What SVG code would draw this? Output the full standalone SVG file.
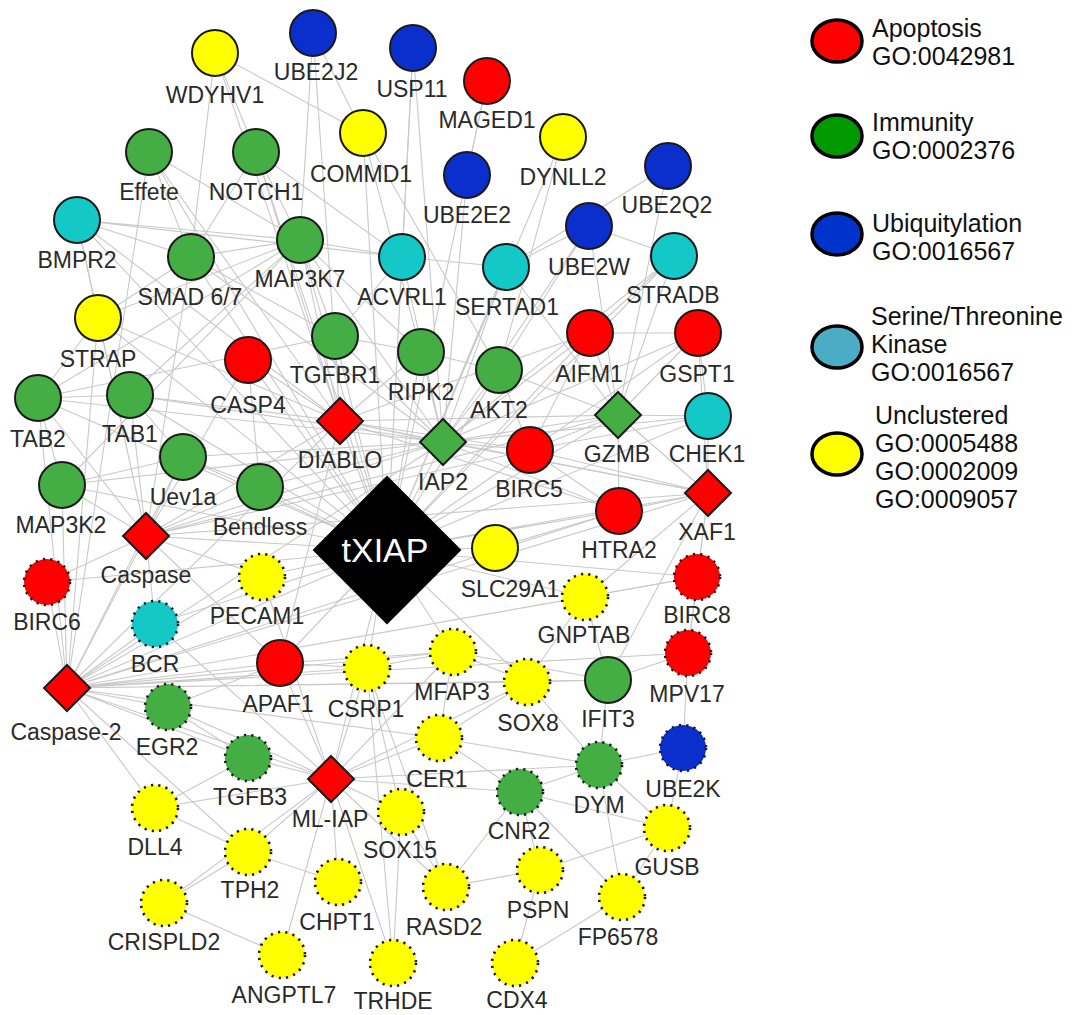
<svg xmlns="http://www.w3.org/2000/svg" width="1075" height="1015" viewBox="0 0 1075 1015">
<style>
.e{stroke:#c9c9c9;stroke-width:1.1;fill:none}
.s{stroke:#1a1a1a;stroke-width:2}
.d{stroke:#1a1a1a;stroke-width:2.6;stroke-dasharray:2.2 5.2}
.r{fill:#ff0000}.g{fill:#44ad44}.b{fill:#0a2fcc}.c{fill:#14c8c8}.y{fill:#ffff00}
text{font-family:"Liberation Sans",Arial,Helvetica,sans-serif}
.l{font-size:23px;fill:#2a2a2a;text-anchor:middle}
.lg{font-size:25px;fill:#111}
</style>
<rect width="1075" height="1015" fill="#ffffff"/>
<g id="connectors">
<path class="e" d="M387 550L335 336M387 550L421 352M387 550L499 370M387 550L248 360M387 550L260 487M387 550L183 457M387 550L130 395M387 550L38 398M387 550L62 485M387 550L300 240M387 550L191 257M387 550L77 220M387 550L402 257M387 550L506 267M387 550L590 333M387 550L698 333M387 550L530 450M387 550L619 511M387 550L495 548M387 550L708 416M387 550L708 493M387 550L618 415M387 550L674 256M387 550L589 226M387 550L467 175M387 550L363 133M387 550L413 48M387 550L487 81M387 550L563 137M387 550L146 536M387 550L67 688M387 550L340 421M387 550L443 442M387 550L262 576M387 550L280 663M387 550L367 668M387 550L453 652M387 550L585 597M387 550L47 582M387 550L155 624M387 550L331 779M387 550L697 577M387 550L527 682M387 550L98 318M387 550L149 152M387 550L256 152"/>
<path class="e" d="M340 421L313 33M340 421L215 53M340 421L149 152M340 421L256 152M340 421L248 360M340 421L335 336M340 421L421 352M340 421L443 442M340 421L530 450M340 421L590 333M340 421L619 511M340 421L146 536M340 421L67 688M340 421L130 395M340 421L98 318M340 421L77 220M340 421L618 415M340 421L708 493M340 421L300 240M340 421L280 663"/>
<path class="e" d="M443 442L413 48M443 442L467 175M443 442L421 352M443 442L499 370M443 442L335 336M443 442L300 240M443 442L191 257M443 442L130 395M443 442L38 398M443 442L183 457M443 442L260 487M443 442L618 415M443 442L708 416M443 442L708 493M443 442L590 333M443 442L698 333M443 442L674 256M443 442L589 226M443 442L506 267M443 442L402 257M443 442L146 536M443 442L67 688M443 442L62 485M443 442L530 450M443 442L619 511"/>
<path class="e" d="M146 536L38 398M146 536L130 395M146 536L62 485M146 536L47 582M146 536L155 624M146 536L183 457M146 536L260 487M146 536L248 360M146 536L191 257M146 536L98 318M146 536L77 220M146 536L67 688M146 536L618 415M146 536L280 663M146 536L262 576M146 536L708 493M146 536L530 450"/>
<path class="e" d="M67 688L62 485M67 688L38 398M67 688L98 318M67 688L47 582M67 688L155 624M67 688L168 707M67 688L155 808M67 688L248 758M67 688L280 663M67 688L367 668M67 688L453 652M67 688L527 682M67 688L608 680M67 688L688 653M67 688L585 597M67 688L697 577M67 688L262 576M67 688L619 511M67 688L708 493M67 688L149 152M67 688L183 457M67 688L439 738M67 688L248 852M67 688L331 779"/>
<path class="e" d="M331 779L280 663M331 779L367 668M331 779L453 652M331 779L439 738M331 779L401 812M331 779L338 882M331 779L393 963M331 779L282 955M331 779L248 852M331 779L248 758M331 779L168 707M331 779L155 808M331 779L446 887M331 779L520 792M331 779L599 765M331 779L527 682M331 779L262 576M331 779L155 624M331 779L164 903"/>
<path class="e" d="M618 415L590 333M618 415L698 333M618 415L708 416M618 415L530 450M618 415L619 511M618 415L708 493M618 415L674 256M618 415L589 226M618 415L499 370M618 415L506 267M618 415L668 166M708 493L619 511M708 493L530 450M708 493L708 416M708 493L688 653M708 493L697 577M708 493L585 597M708 493L608 680M708 493L698 333"/>
<path class="e" d="M608 680L599 765M608 680L527 682M608 680L585 597M688 653L683 748M683 748L667 828M683 748L599 765M599 765L520 792M599 765L622 897M599 765L667 828M599 765L527 682M520 792L667 828M520 792L540 870M520 792L622 897M520 792L446 887M540 870L667 828M515 963L622 897M401 812L446 887M401 812L393 963M439 738L599 765M439 738L527 682M439 738L520 792M453 652L527 682M453 652L439 738M367 668L401 812M367 668L393 963M367 668L446 887M248 852L155 808M248 852L338 882M155 808L248 758M164 903L282 955M164 903L248 852M168 707L248 758M168 707L280 663M280 663L367 668M280 663L453 652M527 682L585 597M585 597L697 577M697 577L688 653M453 652L608 680M367 668L453 652M446 887L540 870M540 870L515 963M622 897L667 828M688 653L608 680"/>
<path class="e" d="M215 53L256 152M215 53L191 257M215 53L363 133M313 33L363 133M313 33L300 240M413 48L402 257M487 81L467 175M149 152L191 257M149 152L300 240M256 152L300 240M256 152L191 257M256 152L402 257M77 220L191 257M77 220L402 257M77 220L300 240M77 220L98 318M191 257L300 240M191 257L335 336M191 257L98 318M300 240L402 257M300 240L130 395M300 240L38 398M300 240L335 336M300 240L421 352M402 257L506 267M402 257L335 336M506 267L589 226M589 226L674 256M674 256L590 333M668 166L506 267M563 137L499 370M363 133L421 352M363 133L499 370M130 395L38 398M130 395L183 457M38 398L62 485M38 398L98 318M183 457L260 487M183 457L62 485M260 487L248 360M335 336L421 352M421 352L499 370M499 370L530 450M590 333L530 450M590 333L698 333M698 333L708 416M708 416L530 450M619 511L530 450M619 511L495 548M38 398L335 336M98 318L300 240M62 485L300 240"/>
</g>
<g id="legend">
<ellipse cx="837" cy="41" rx="25" ry="21" fill="#ff0000" stroke="#000" stroke-width="3.5"/>
<text class="lg" x="872" y="37">Apoptosis</text><text class="lg" x="872" y="65">GO:0042981</text>
<ellipse cx="837" cy="136" rx="25" ry="21" fill="#009900" stroke="#000" stroke-width="3.5"/>
<text class="lg" x="872" y="131">Immunity</text><text class="lg" x="872" y="159">GO:0002376</text>
<ellipse cx="837" cy="234" rx="25" ry="21" fill="#0033cc" stroke="#000" stroke-width="3.5"/>
<text class="lg" x="872" y="232">Ubiquitylation</text><text class="lg" x="872" y="260">GO:0016567</text>
<ellipse cx="837" cy="347" rx="25" ry="21" fill="#4bacc6" stroke="#000" stroke-width="3.5"/>
<text class="lg" x="871" y="325">Serine/Threonine</text><text class="lg" x="871" y="353">Kinase</text><text class="lg" x="871" y="381">GO:0016567</text>
<ellipse cx="837" cy="454" rx="25" ry="21" fill="#ffff00" stroke="#000" stroke-width="3.5"/>
<text class="lg" x="875" y="424">Unclustered</text><text class="lg" x="875" y="452">GO:0005488</text><text class="lg" x="875" y="480">GO:0002009</text><text class="lg" x="875" y="508">GO:0009057</text>
</g>
<g id="n-WDYHV1"><circle class="s y" cx="215" cy="53" r="23"/><text class="l" x="215" y="103">WDYHV1</text></g>
<g id="n-UBE2J2"><circle class="s b" cx="313" cy="33" r="23"/><text class="l" x="316" y="80">UBE2J2</text></g>
<g id="n-USP11"><circle class="s b" cx="413" cy="48" r="23"/><text class="l" x="412" y="97">USP11</text></g>
<g id="n-MAGED1"><circle class="s r" cx="487" cy="81" r="23"/><text class="l" x="487" y="128">MAGED1</text></g>
<g id="n-COMMD1"><circle class="s y" cx="363" cy="133" r="23"/><text class="l" x="361" y="182">COMMD1</text></g>
<g id="n-DYNLL2"><circle class="s y" cx="563" cy="137" r="23"/><text class="l" x="563" y="185">DYNLL2</text></g>
<g id="n-Effete"><circle class="s g" cx="149" cy="152" r="23"/><text class="l" x="149" y="200">Effete</text></g>
<g id="n-NOTCH1"><circle class="s g" cx="256" cy="152" r="23"/><text class="l" x="256" y="200">NOTCH1</text></g>
<g id="n-UBE2E2"><circle class="s b" cx="467" cy="175" r="23"/><text class="l" x="467" y="223">UBE2E2</text></g>
<g id="n-UBE2Q2"><circle class="s b" cx="668" cy="166" r="23"/><text class="l" x="667" y="213">UBE2Q2</text></g>
<g id="n-BMPR2"><circle class="s c" cx="77" cy="220" r="23"/><text class="l" x="77" y="268">BMPR2</text></g>
<g id="n-UBE2W"><circle class="s b" cx="589" cy="226" r="23"/><text class="l" x="589" y="275">UBE2W</text></g>
<g id="n-MAP3K7"><circle class="s g" cx="300" cy="240" r="23"/><text class="l" x="300" y="287">MAP3K7</text></g>
<g id="n-SMAD67"><circle class="s g" cx="191" cy="257" r="23"/><text class="l" x="190" y="305">SMAD 6/7</text></g>
<g id="n-ACVRL1"><circle class="s c" cx="402" cy="257" r="23"/><text class="l" x="402" y="305">ACVRL1</text></g>
<g id="n-SERTAD1"><circle class="s c" cx="506" cy="267" r="23"/><text class="l" x="507" y="315">SERTAD1</text></g>
<g id="n-STRADB"><circle class="s c" cx="674" cy="256" r="23"/><text class="l" x="673" y="303">STRADB</text></g>
<g id="n-STRAP"><circle class="s y" cx="98" cy="318" r="23"/><text class="l" x="98" y="367">STRAP</text></g>
<g id="n-TGFBR1"><circle class="s g" cx="335" cy="336" r="23"/><text class="l" x="335" y="383">TGFBR1</text></g>
<g id="n-RIPK2"><circle class="s g" cx="421" cy="352" r="23"/><text class="l" x="421" y="400">RIPK2</text></g>
<g id="n-AIFM1"><circle class="s r" cx="590" cy="333" r="23"/><text class="l" x="589" y="382">AIFM1</text></g>
<g id="n-GSPT1"><circle class="s r" cx="698" cy="333" r="23"/><text class="l" x="697" y="382">GSPT1</text></g>
<g id="n-CASP4"><circle class="s r" cx="248" cy="360" r="23"/><text class="l" x="248" y="413">CASP4</text></g>
<g id="n-AKT2"><circle class="s g" cx="499" cy="370" r="23"/><text class="l" x="499" y="418">AKT2</text></g>
<g id="n-TAB2"><circle class="s g" cx="38" cy="398" r="23"/><text class="l" x="38" y="447">TAB2</text></g>
<g id="n-TAB1"><circle class="s g" cx="130" cy="395" r="23"/><text class="l" x="130" y="442">TAB1</text></g>
<g id="n-DIABLO"><polygon class="s r" points="340,398 363,421 340,444 317,421"/><text class="l" x="340" y="468">DIABLO</text></g>
<g id="n-IAP2"><polygon class="s g" points="443,419 466,442 443,465 420,442"/><text class="l" x="443" y="490">IAP2</text></g>
<g id="n-GZMB"><polygon class="s g" points="618,392 641,415 618,438 595,415"/><text class="l" x="617" y="462">GZMB</text></g>
<g id="n-CHEK1"><circle class="s c" cx="708" cy="416" r="23"/><text class="l" x="707" y="462">CHEK1</text></g>
<g id="n-BIRC5"><circle class="s r" cx="530" cy="450" r="23"/><text class="l" x="529" y="497">BIRC5</text></g>
<g id="n-Uev1a"><circle class="s g" cx="183" cy="457" r="23"/><text class="l" x="183" y="505">Uev1a</text></g>
<g id="n-MAP3K2"><circle class="s g" cx="62" cy="485" r="23"/><text class="l" x="61" y="533">MAP3K2</text></g>
<g id="n-Bendless"><circle class="s g" cx="260" cy="487" r="23"/><text class="l" x="260" y="535">Bendless</text></g>
<g id="n-XAF1"><polygon class="s r" points="708,470 731,493 708,516 685,493"/><text class="l" x="707" y="540">XAF1</text></g>
<g id="n-HTRA2"><circle class="s r" cx="619" cy="511" r="23"/><text class="l" x="619" y="558">HTRA2</text></g>
<g id="n-Caspase"><polygon class="s r" points="146,513 169,536 146,559 123,536"/><text class="l" x="146" y="583">Caspase</text></g>
<g id="n-tXIAP"><polygon fill="#000" stroke="#000" stroke-width="2" points="387,477 460,550 387,623 314,550"/><text x="385" y="562" font-size="34" fill="#fff" text-anchor="middle">tXIAP</text></g>
<g id="n-SLC29A1"><circle class="s y" cx="495" cy="548" r="23"/><text class="l" x="510" y="597">SLC29A1</text></g>
<g id="n-PECAM1"><circle class="d y" cx="262" cy="577" r="23"/><text class="l" x="257" y="624">PECAM1</text></g>
<g id="n-BIRC6"><circle class="d r" cx="47" cy="582" r="23"/><text class="l" x="47" y="630">BIRC6</text></g>
<g id="n-BIRC8"><circle class="d r" cx="697" cy="577" r="23"/><text class="l" x="697" y="623">BIRC8</text></g>
<g id="n-GNPTAB"><circle class="d y" cx="585" cy="597" r="23"/><text class="l" x="584" y="643">GNPTAB</text></g>
<g id="n-BCR"><circle class="d c" cx="155" cy="624" r="23"/><text class="l" x="155" y="672">BCR</text></g>
<g id="n-MFAP3"><circle class="d y" cx="453" cy="652" r="23"/><text class="l" x="452" y="700">MFAP3</text></g>
<g id="n-APAF1"><circle class="s r" cx="280" cy="663" r="23"/><text class="l" x="278" y="712">APAF1</text></g>
<g id="n-CSRP1"><circle class="d y" cx="367" cy="668" r="23"/><text class="l" x="366" y="717">CSRP1</text></g>
<g id="n-SOX8"><circle class="d y" cx="527" cy="682" r="23"/><text class="l" x="528" y="731">SOX8</text></g>
<g id="n-IFIT3"><circle class="s g" cx="608" cy="680" r="23"/><text class="l" x="608" y="727">IFIT3</text></g>
<g id="n-MPV17"><circle class="d r" cx="688" cy="653" r="23"/><text class="l" x="687" y="702">MPV17</text></g>
<g id="n-Caspase-2"><polygon class="s r" points="67,665 90,688 67,711 44,688"/><text class="l" x="66" y="740">Caspase-2</text></g>
<g id="n-EGR2"><circle class="d g" cx="168" cy="707" r="23"/><text class="l" x="167" y="755">EGR2</text></g>
<g id="n-CER1"><circle class="d y" cx="439" cy="738" r="23"/><text class="l" x="437" y="787">CER1</text></g>
<g id="n-UBE2K"><circle class="d b" cx="683" cy="748" r="23"/><text class="l" x="683" y="797">UBE2K</text></g>
<g id="n-TGFB3"><circle class="d g" cx="248" cy="758" r="23"/><text class="l" x="250" y="805">TGFB3</text></g>
<g id="n-DYM"><circle class="d g" cx="599" cy="765" r="23"/><text class="l" x="599" y="813">DYM</text></g>
<g id="n-ML-IAP"><polygon class="s r" points="331,756 354,779 331,802 308,779"/><text class="l" x="330" y="827">ML-IAP</text></g>
<g id="n-CNR2"><circle class="d g" cx="520" cy="792" r="23"/><text class="l" x="519" y="839">CNR2</text></g>
<g id="n-SOX15"><circle class="d y" cx="401" cy="812" r="23"/><text class="l" x="400" y="858">SOX15</text></g>
<g id="n-DLL4"><circle class="d y" cx="155" cy="808" r="23"/><text class="l" x="155" y="855">DLL4</text></g>
<g id="n-GUSB"><circle class="d y" cx="667" cy="828" r="23"/><text class="l" x="667" y="875">GUSB</text></g>
<g id="n-TPH2"><circle class="d y" cx="248" cy="852" r="23"/><text class="l" x="250" y="898">TPH2</text></g>
<g id="n-PSPN"><circle class="d y" cx="540" cy="870" r="23"/><text class="l" x="538" y="918">PSPN</text></g>
<g id="n-CHPT1"><circle class="d y" cx="338" cy="882" r="23"/><text class="l" x="337" y="930">CHPT1</text></g>
<g id="n-RASD2"><circle class="d y" cx="446" cy="887" r="23"/><text class="l" x="444" y="935">RASD2</text></g>
<g id="n-FP6578"><circle class="d y" cx="622" cy="897" r="23"/><text class="l" x="618" y="945">FP6578</text></g>
<g id="n-CRISPLD2"><circle class="d y" cx="164" cy="903" r="23"/><text class="l" x="164" y="950">CRISPLD2</text></g>
<g id="n-ANGPTL7"><circle class="d y" cx="282" cy="955" r="23"/><text class="l" x="284" y="1003">ANGPTL7</text></g>
<g id="n-TRHDE"><circle class="d y" cx="393" cy="963" r="23"/><text class="l" x="393" y="1009">TRHDE</text></g>
<g id="n-CDX4"><circle class="d y" cx="515" cy="963" r="23"/><text class="l" x="517" y="1008">CDX4</text></g>
</svg>
